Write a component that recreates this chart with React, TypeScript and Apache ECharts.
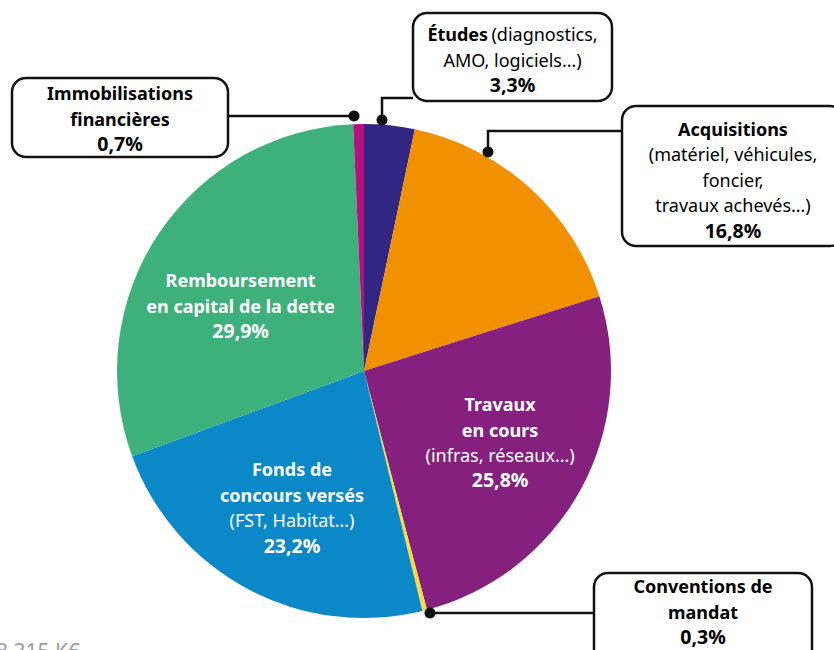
import React, { useEffect, useRef } from "react";
import * as echarts from "echarts";

const categories = [
  "Études",
  "Acquisitions",
  "Travaux en cours",
  "Conventions de mandat",
  "Fonds de concours versés",
  "Remboursement en capital de la dette",
  "Immobilisations financières",
];
const values = [3.3, 16.8, 25.8, 0.3, 23.2, 29.9, 0.7];
const colors = ["#312783", "#f29100", "#85207f", "#f6dc3c", "#0b88c8", "#3eb07c", "#b5127f"];
const labelLines = [
  ["{b|Études} {n|(diagnostics,}", "{n|AMO, logiciels…)}"],
  ["{b|Acquisitions}", "{n|(matériel, véhicules,}", "{n|foncier,}", "{n|travaux achevés…)}"],
  ["{b|Travaux}", "{b|en cours}", "{n|(infras, réseaux…)}"],
  ["{b|Conventions de}", "{b|mandat}"],
  ["{b|Fonds de}", "{b|concours versés}", "{n|(FST, Habitat…)}"],
  ["{b|Remboursement}", "{b|en capital de la dette}"],
  ["{b|Immobilisations}", "{b|financières}"],
];
const insideIdx = [2, 4, 5];
const totalText = "8 315 K€";

const pct = (v: number) => v.toFixed(1).replace(".", ",") + "%";
const labelText = (i: number) => [...labelLines[i], "{p|" + pct(values[i]) + "}"].join("\n");

const FONT = "'Noto Sans', sans-serif";

const callouts = [
  { idx: 6, box: [12, 78, 216, 79], pts: [[228, 116], [354, 116]], dot: 1, ty: 118 },
  { idx: 0, box: [413, 13, 199, 88], pts: [[382, 120], [382, 98], [413, 98]], dot: 0, ty: 59 },
  { idx: 1, box: [622, 106, 222, 140], pts: [[488, 152], [488, 131], [622, 131]], dot: 0, ty: 179 },
  { idx: 3, box: [594, 573, 218, 100], pts: [[430, 613], [594, 613]], dot: 0, ty: 611 },
];

export default function App() {
  const ref = useRef<HTMLDivElement>(null);
  useEffect(() => {
    const chart = echarts.init(ref.current!, null, { renderer: "svg" });
    const data = categories.map((c, i) => ({ name: c, value: values[i], itemStyle: { color: colors[i] } }));
    const rich = (color: string) => ({
      b: { fontFamily: FONT, fontWeight: "bold" as const, fontSize: 18, color, lineHeight: 25.5 },
      n: { fontFamily: FONT, fontWeight: "normal" as const, fontSize: 18, color, lineHeight: 25.5 },
      p: { fontFamily: FONT, fontWeight: "bold" as const, fontSize: 19.5, color, lineHeight: 24 },
    });
    const graphics: any[] = [];
    callouts.forEach((c) => {
      const [x, y, w, h] = c.box;
      const d = c.pts[c.dot === 1 ? c.pts.length - 1 : 0];
      graphics.push({
        type: "polyline",
        shape: { points: c.pts },
        style: { stroke: "#111", lineWidth: 2.5, fill: null },
        z: 10,
      });
      graphics.push({
        type: "circle",
        shape: { cx: d[0], cy: d[1], r: 5.5 },
        style: { fill: "#111" },
        z: 11,
      });
      graphics.push({
        type: "rect",
        shape: { x, y, width: w, height: h, r: 14 },
        style: { fill: "#fff", stroke: "#111", lineWidth: 2.5 },
        z: 12,
      });
      graphics.push({
        type: "text",
        x: x + w / 2,
        y: c.ty,
        style: {
          text: labelText(c.idx),
          rich: rich("#111"),
          align: "center",
          verticalAlign: "middle",
        },
        z: 13,
      });
    });
    graphics.push({
      type: "text",
      x: -4,
      y: 640,
      style: { text: totalText, fontFamily: FONT, fontSize: 21, fill: "#9d9d9d", verticalAlign: "top" },
    });

    chart.setOption({
      animation: false,
      backgroundColor: "#fff",
      series: [
        {
          type: "pie",
          center: [364, 371],
          radius: [0, 247],
          startAngle: 90,
          clockwise: true,
          data,
          label: { show: false },
          labelLine: { show: false },
          itemStyle: { borderWidth: 0 },
          silent: true,
        },
        {
          type: "pie",
          center: [364, 371],
          radius: [53, 247],
          startAngle: 90,
          clockwise: true,
          silent: true,
          avoidLabelOverlap: false,
          data: categories.map((c, i) => ({
            name: c,
            value: values[i],
            itemStyle: { color: "rgba(0,0,0,0)" },
            label: { show: insideIdx.includes(i) },
          })),
          label: {
            position: "inside",
            formatter: (p: any) => labelText(p.dataIndex),
            rich: rich("#fff"),
            align: "center",
          },
          labelLine: { show: false },
          labelLayout: (p: any) =>
            p.dataIndex === 5 ? { dx: 4, dy: 19 } : p.dataIndex === 4 ? { dy: 1 } : { dx: 2, dy: -3 },
        },
      ],
      graphic: graphics,
    });
    return () => chart.dispose();
  }, []);
  return <div ref={ref} style={{ position: "fixed", left: 0, top: 0, width: 834, height: 650 }} />;
}
